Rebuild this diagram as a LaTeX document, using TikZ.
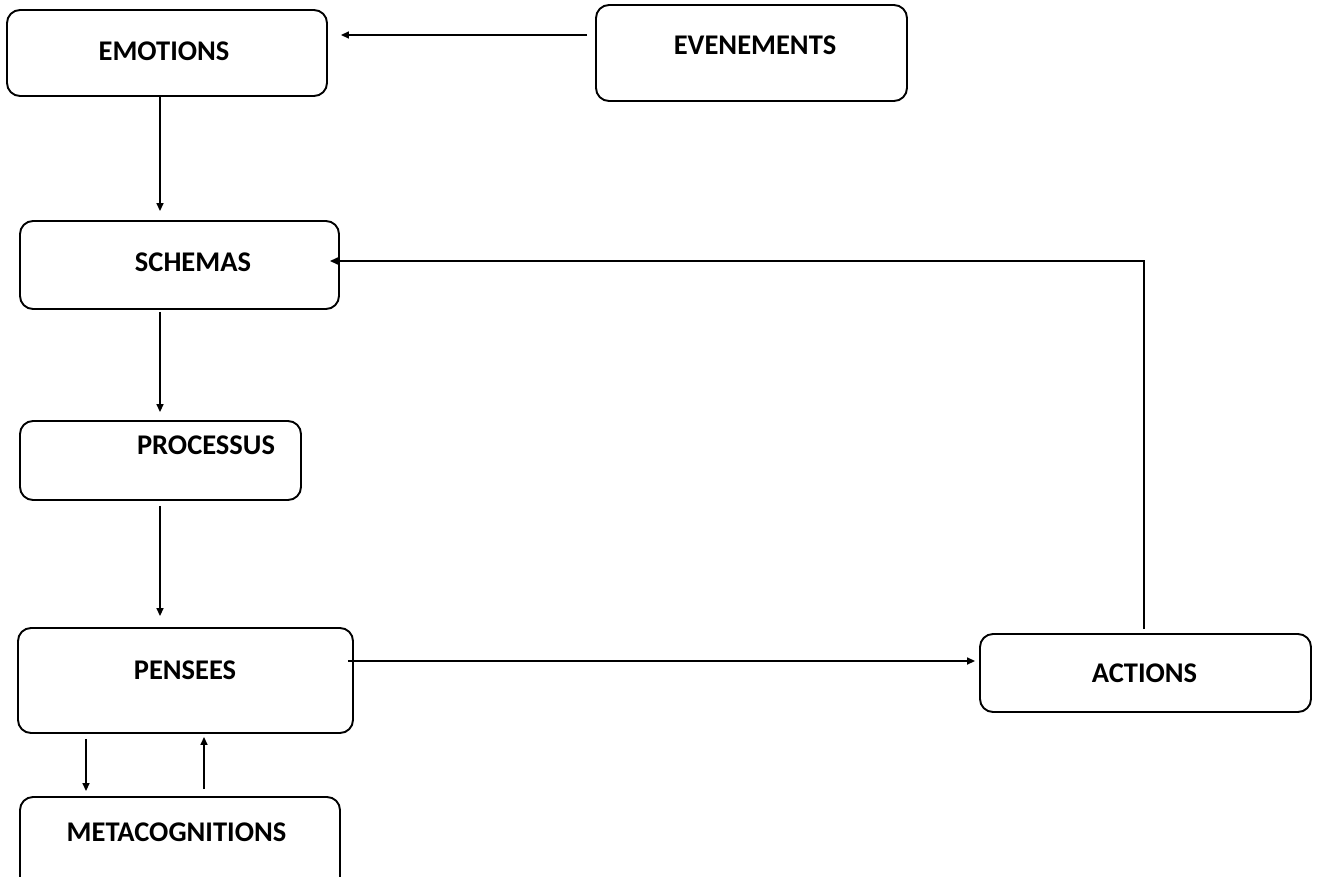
\documentclass[tikz,border=0pt]{standalone}
\usepackage{fontspec}
\setmainfont{Carlito}
\usetikzlibrary{arrows.meta}
\tikzset{
  box/.style={draw=black, line width=1.9pt, rounded corners=13pt, inner sep=0pt, fill=white},
  lbl/.style={inner sep=0pt, font=\fontsize{28.5}{33}\selectfont\bfseries},
  arr/.style={line width=1.6pt, -{Triangle[length=8pt,width=7pt]}},
}
\begin{document}
\begin{tikzpicture}[x=1pt,y=-1pt]
\useasboundingbox (0,0) rectangle (1317,876);
\fill[white] (0,0) rectangle (1317,876);
% boxes
\node[box, minimum width=320pt, minimum height=86pt] (emo) at (167,53) {};
\node[box, minimum width=311pt, minimum height=96pt] (eve) at (751.5,53) {};
\node[box, minimum width=319pt, minimum height=88pt] (sch) at (179.5,265) {};
\node[box, minimum width=281pt, minimum height=79pt] (pro) at (160.5,460.5) {};
\node[box, minimum width=335pt, minimum height=105pt] (pen) at (185.5,680.5) {};
\node[box, minimum width=320pt, minimum height=100pt] (met) at (180,847) {};
\node[box, minimum width=331pt, minimum height=78pt] (act) at (1145.5,673) {};
% labels
\node[lbl] (emot) at ([xshift=-3pt,yshift=2pt]emo.center) {EMOTIONS};
\node[lbl] (evet) at ([xshift=3.5pt,yshift=8pt]eve.center) {EVENEMENTS};
\node[lbl] (scht) at ([xshift=13.5pt,yshift=3pt]sch.center) {SCHEMAS};
\node[lbl] (prot) at ([xshift=45.5pt,yshift=15.5pt]pro.center) {PROCESSUS};
\node[lbl] (pent) at ([xshift=-0.5pt,yshift=10pt]pen.center) {PENSEES};
\node[lbl] (mett) at ([xshift=-3.5pt,yshift=15pt]met.center) {METACOGNITIONS};
\node[lbl] (actt) at ([xshift=-1pt,yshift=0pt]act.center) {ACTIONS};
% connectors
\draw[arr] ([xshift=-8pt,yshift=18pt]eve.west) -- ([xshift=13pt,yshift=18pt]emo.east);
\draw[arr] ([xshift=-7pt]emo.south) -- ([xshift=-19.5pt,yshift=9pt]sch.north);
\draw[arr] ([xshift=-19.5pt,yshift=-2pt]sch.south) -- ([xshift=-0.5pt,yshift=8pt]pro.north);
\draw[arr] ([xshift=-0.5pt,yshift=-5pt]pro.south) -- ([xshift=-25.5pt,yshift=11pt]pen.north);
\draw[arr] ([xshift=-6pt,yshift=19.5pt]pen.east) -- ([xshift=-4pt,yshift=12pt]act.west);
\draw[arr] ([xshift=-1.5pt,yshift=4pt]act.north) |- ([xshift=-10pt,yshift=4pt]sch.east);
\draw[arr] ([xshift=-99.5pt,yshift=-5pt]pen.south) -- ([xshift=-94pt,yshift=5pt]met.north);
\draw[arr] ([xshift=24pt,yshift=7pt]met.north) -- ([xshift=18.5pt,yshift=-3pt]pen.south);
\end{tikzpicture}
\end{document}
